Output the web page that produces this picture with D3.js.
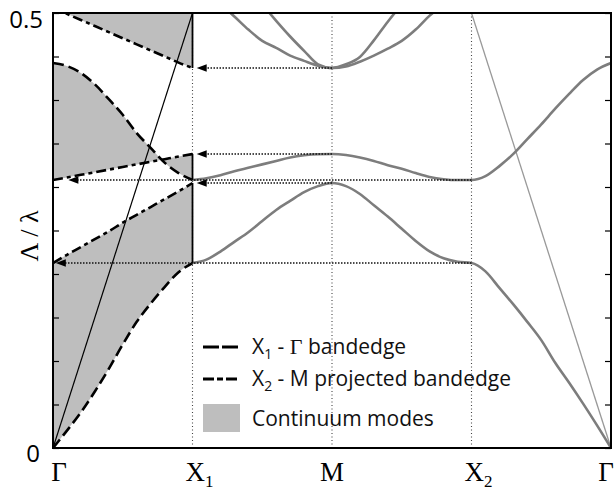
<!DOCTYPE html>
<html>
<head>
<meta charset="utf-8">
<script src="https://cdn.jsdelivr.net/npm/d3@7"></script>
<style>
  body { margin: 0; background: #fff; }
  svg { display: block; }
</style>
</head>
<body>
<script>
// k runs along the path Γ - X1 - M - X2 - Γ, one unit per segment
const pointLabels = ["Γ", "X", "M", "X", "Γ"];
const pointSubs = ["", "1", "", "2", ""];
const yTicks = [0, 0.05, 0.1, 0.15, 0.2, 0.25, 0.3, 0.35, 0.4, 0.45, 0.5];

// Γ - X1 segment: bandedges
const kLeft = [0, 0.1, 0.2, 0.3, 0.4, 0.5, 0.6, 0.7, 0.8, 0.9, 1.0];
// X1 - Γ bandedge (long dash)
const edgeLow  = [0, 0.020, 0.041, 0.065, 0.091, 0.119, 0.145, 0.166, 0.185, 0.202, 0.2126];
const edgeHigh = [0.4425, 0.439, 0.431, 0.418, 0.401, 0.383, 0.362, 0.345, 0.328, 0.316, 0.308];
// X2 - M projected bandedge (dash dot)
const projLow = [0.2126, 0.222, 0.231, 0.240, 0.249, 0.259, 0.268, 0.277, 0.286, 0.295, 0.3046];
const projMid = [0.308, 0.311, 0.314, 0.317, 0.320, 0.323, 0.326, 0.329, 0.332, 0.335, 0.3379];
const projTop = [0.506, 0.499, 0.492, 0.485, 0.478, 0.471, 0.464, 0.457, 0.450, 0.443, 0.4368];

// X1 - M - X2 - Γ: bands
const kBand = [1.0, 1.1, 1.2, 1.3, 1.4, 1.5, 1.6, 1.7, 1.8, 1.9, 2.0,
               2.1, 2.2, 2.3, 2.4, 2.5, 2.6, 2.7, 2.8, 2.9, 3.0,
               3.1, 3.2, 3.3, 3.4, 3.5, 3.6, 3.7, 3.8, 3.9, 4.0];
const band1 = [0.2126, 0.2165, 0.2258, 0.237, 0.248, 0.261, 0.2736, 0.284, 0.294, 0.301, 0.3046,
               0.301, 0.292, 0.279, 0.266, 0.252, 0.238, 0.226, 0.218, 0.214, 0.2126,
               0.203, 0.184, 0.165, 0.145, 0.124, 0.098, 0.075, 0.051, 0.026, 0];
const band2 = [0.308, 0.310, 0.3135, 0.318, 0.322, 0.326, 0.330, 0.334, 0.3365, 0.3377, 0.3379,
               0.3368, 0.334, 0.330, 0.325, 0.321, 0.316, 0.3115, 0.309, 0.308, 0.308,
               0.3125, 0.324, 0.338, 0.355, 0.372, 0.390, 0.407, 0.423, 0.435, 0.4425];
const kOuter = [1.2, 1.3, 1.4, 1.5, 1.6, 1.7, 1.8, 1.9, 2.0, 2.1, 2.2, 2.3, 2.4, 2.5, 2.6, 2.7, 2.8];
const band3 = [0.51, 0.496, 0.481, 0.468, 0.460, 0.451, 0.445, 0.4395, 0.4368, 0.4385, 0.444, 0.451, 0.459, 0.468, 0.481, 0.497, 0.51];
const kInner = [1.5, 1.6, 1.7, 1.8, 1.9, 2.0, 2.1, 2.2, 2.3, 2.4, 2.5];
const band4 = [0.51, 0.491, 0.473, 0.4565, 0.441, 0.4368, 0.441, 0.4495, 0.4685, 0.49, 0.51];

// light lines
const lightLeftK = [0, 1], lightLeftV = [0, 0.5];
const lightRightK = [3, 4], lightRightV = [0.5, 0];

// projection arrows: start k, tip k, value
const arrowFrom = [2, 2, 3, 2, 3];
const arrowTo   = [1.03, 1.03, 0.11, 1.03, 0.02];
const arrowVal  = [0.4368, 0.3379, 0.308, 0.3046, 0.2126];

const width = 614, height = 490;
const plot = {left: 53, right: 611, top: 13, bottom: 448};

const svg = d3.select("body").append("svg")
    .attr("width", width)
    .attr("height", height);

const x = d3.scaleLinear().domain([0, 4]).range([plot.left, plot.right]);
const y = d3.scaleLinear().domain([0, 0.5]).range([plot.bottom, plot.top]);

svg.append("clipPath").attr("id", "clip")
  .append("rect")
    .attr("x", plot.left).attr("y", plot.top)
    .attr("width", plot.right - plot.left).attr("height", plot.bottom - plot.top);

const g = svg.append("g").attr("clip-path", "url(#clip)");

const FILL = "#bebebe";

function zip(ks, vs) { return ks.map((k, i) => [k, vs[i]]); }

const line = d3.line().x(d => x(d[0])).y(d => y(d[1])).curve(d3.curveMonotoneX);

// continuum regions
function drawFill(lo, hi) {
  const area = d3.area()
      .x((d, i) => x(kLeft[i]))
      .y0((d, i) => y(lo[i]))
      .y1((d, i) => y(hi[i]))
      .curve(d3.curveMonotoneX);
  g.append("path").attr("d", area(kLeft)).attr("fill", FILL);
}
drawFill(edgeLow, projLow);
drawFill(projMid, edgeHigh);
drawFill(projTop, kLeft.map(() => 0.5));

// vertical dotted guides
[1, 2, 3].forEach(k => {
  g.append("line")
    .attr("x1", x(k)).attr("x2", x(k))
    .attr("y1", y(0)).attr("y2", y(0.5))
    .attr("stroke", "#444").attr("stroke-width", 1.1)
    .attr("stroke-dasharray", "1,2.5");
});

// light lines
g.append("path").attr("d", line(zip(lightLeftK, lightLeftV)))
  .attr("fill", "none").attr("stroke", "#000").attr("stroke-width", 1.2);
g.append("path").attr("d", line(zip(lightRightK, lightRightV)))
  .attr("fill", "none").attr("stroke", "#999").attr("stroke-width", 1.3);

// bands
[[kBand, band1], [kBand, band2], [kOuter, band3], [kInner, band4]].forEach(b => {
  g.append("path").attr("d", line(zip(b[0], b[1])))
    .attr("fill", "none").attr("stroke", "#7d7d7d").attr("stroke-width", 2.6);
});

// bandedges
[edgeLow, edgeHigh].forEach(v => {
  g.append("path").attr("d", line(zip(kLeft, v)))
    .attr("fill", "none").attr("stroke", "#000").attr("stroke-width", 2.6)
    .attr("stroke-dasharray", "11,5");
});
[projLow, projMid, projTop].forEach(v => {
  g.append("path").attr("d", line(zip(kLeft, v)))
    .attr("fill", "none").attr("stroke", "#000").attr("stroke-width", 2.6)
    .attr("stroke-dasharray", "10,4,4,4");
});

// solid edges of the continuum at X1
const last = kLeft.length - 1;
[[edgeLow[last], projLow[last]], [edgeHigh[last], projMid[last]], [projTop[last], 0.5]].forEach(s => {
  g.append("line")
    .attr("x1", x(1)).attr("x2", x(1))
    .attr("y1", y(s[0])).attr("y2", y(s[1]))
    .attr("stroke", "#000").attr("stroke-width", 1.8);
});

// arrows
arrowVal.forEach((v, i) => {
  const x0 = x(arrowFrom[i]), x1 = x(arrowTo[i]), yy = y(v);
  g.append("line")
    .attr("x1", x0).attr("x2", x1 + 6)
    .attr("y1", yy).attr("y2", yy)
    .attr("stroke", "#111").attr("stroke-width", 1.6)
    .attr("stroke-dasharray", "1.5,1.5");
  g.append("path")
    .attr("d", `M${x1},${yy}L${x1 + 10},${yy - 3.8}L${x1 + 10},${yy + 3.8}Z`)
    .attr("fill", "#000");
});

// ticks on both sides, pointing inward
svg.append("g")
    .attr("transform", `translate(${plot.left},0)`)
    .call(d3.axisLeft(y).tickValues(yTicks).tickSize(-6).tickFormat(""))
    .call(s => s.select(".domain").remove())
    .selectAll("line").attr("stroke-width", 1.2);
svg.append("g")
    .attr("transform", `translate(${plot.right},0)`)
    .call(d3.axisRight(y).tickValues(yTicks).tickSize(-6).tickFormat(""))
    .call(s => s.select(".domain").remove())
    .selectAll("line").attr("stroke-width", 1.2);

// frame
svg.append("rect")
    .attr("x", plot.left).attr("y", plot.top)
    .attr("width", plot.right - plot.left).attr("height", plot.bottom - plot.top)
    .attr("fill", "none").attr("stroke", "#000").attr("stroke-width", 2);

// y labels
const sans = "'Open Sans', 'Noto Sans', sans-serif";
const serif = "'Liberation Serif', 'Times New Roman', serif";
svg.append("text").attr("x", 43).attr("y", 28).attr("text-anchor", "end")
    .attr("font-family", sans).attr("font-size", 24).text("0.5");
svg.append("text").attr("x", 40).attr("y", 462).attr("text-anchor", "end")
    .attr("font-family", sans).attr("font-size", 24).text("0");
svg.append("text")
    .attr("transform", "translate(38,236) rotate(-90)")
    .attr("text-anchor", "middle")
    .attr("font-family", serif).attr("font-size", 26)
    .text("Λ / λ");

// x labels
const labelShift = [6, 3, 0, 3, -5];
pointLabels.forEach((lab, i) => {
  const t = svg.append("text")
      .attr("x", x(i) + labelShift[i] - (pointSubs[i] ? 10 : 0))
      .attr("y", 481)
      .attr("text-anchor", pointSubs[i] ? "start" : "middle")
      .attr("font-family", serif).attr("font-size", 27);
  t.append("tspan").text(lab);
  if (pointSubs[i]) t.append("tspan").attr("font-size", 17).attr("dy", 6).text(pointSubs[i]);
});

// legend
const lg = svg.append("g").attr("font-family", sans).attr("font-size", 21).attr("fill", "#111");
lg.append("line").attr("x1", 203).attr("x2", 238).attr("y1", 347).attr("y2", 347)
    .attr("stroke", "#000").attr("stroke-width", 3).attr("stroke-dasharray", "16,3");
lg.append("line").attr("x1", 203).attr("x2", 238).attr("y1", 379).attr("y2", 379)
    .attr("stroke", "#000").attr("stroke-width", 3).attr("stroke-dasharray", "11,3,6,3");
lg.append("rect").attr("x", 203).attr("y", 404).attr("width", 37).attr("height", 28).attr("fill", FILL);

const t1 = lg.append("text").attr("x", 252).attr("y", 354);
t1.append("tspan").text("X");
t1.append("tspan").attr("font-size", 14).attr("dy", 5).text("1");
t1.append("tspan").attr("dy", -5).text(" - ");
t1.append("tspan").attr("font-family", serif).attr("font-size", 22).text("Γ");
t1.append("tspan").text(" bandedge");

const t2 = lg.append("text").attr("x", 252).attr("y", 386);
t2.append("tspan").text("X");
t2.append("tspan").attr("font-size", 14).attr("dy", 5).text("2");
t2.append("tspan").attr("dy", -5).text(" - M projected bandedge");

lg.append("text").attr("x", 252).attr("y", 426).text("Continuum modes");
</script>
</body>
</html>
